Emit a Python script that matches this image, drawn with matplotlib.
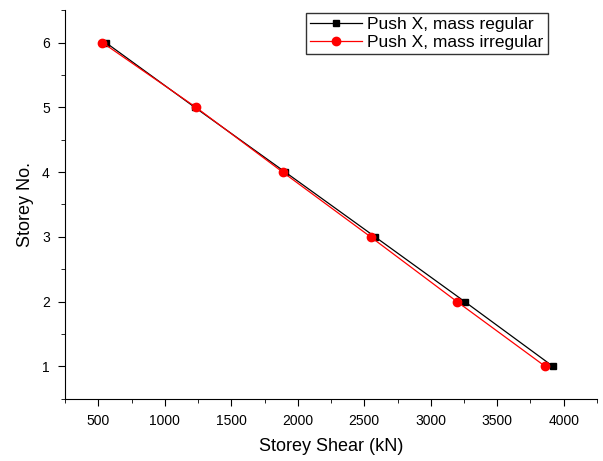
import matplotlib
matplotlib.use("Agg")
import matplotlib.pyplot as plt
from matplotlib.ticker import MultipleLocator

plt.rcParams['font.family'] = ['Liberation Sans', 'DejaVu Sans']

storey = [1, 2, 3, 4, 5, 6]
shear_regular = [3919, 3255, 2581, 1905, 1225, 555]
shear_irregular = [3861, 3197, 2547, 1886, 1234, 530]

fig = plt.figure(figsize=(6.03, 4.61), dpi=100)
ax = fig.add_axes([0.108, 0.135, 0.882, 0.843])

ax.plot(shear_regular, storey, color='black', lw=0.9, marker='s', ms=5,
        label='Push X, mass regular')
ax.plot(shear_irregular, storey, color='red', lw=0.9, marker='o', ms=6,
        label='Push X, mass irregular')

ax.set_xlim(250, 4250)
ax.set_ylim(0.5, 6.5)
ax.xaxis.set_major_locator(MultipleLocator(500))
ax.xaxis.set_minor_locator(MultipleLocator(250))
ax.yaxis.set_major_locator(MultipleLocator(1))
ax.yaxis.set_minor_locator(MultipleLocator(0.5))
ax.tick_params(which='major', direction='out', length=5, labelsize=10, pad=6)
ax.tick_params(which='minor', direction='out', length=3)
ax.spines['top'].set_visible(False)
ax.spines['right'].set_visible(False)

ax.set_xlabel('Storey Shear (kN)', fontsize=13, labelpad=7)
ax.set_ylabel('Storey No.', fontsize=13, labelpad=6)

leg = ax.legend(loc='upper right', bbox_to_anchor=(0.908, 0.993),
                fontsize=12.5, frameon=True, fancybox=False, borderaxespad=0,
                handlelength=3.0, handletextpad=0.3, borderpad=0.25,
                labelspacing=0.15)
leg.get_frame().set_edgecolor('black')
leg.get_frame().set_linewidth(1)

fig.savefig('out.png', dpi=100)
